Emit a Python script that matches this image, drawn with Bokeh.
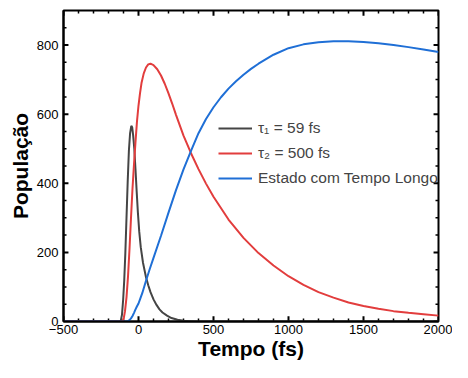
from bokeh.plotting import figure
from bokeh.models import Range1d, Legend, LegendItem, FixedTicker
from bokeh.embed import file_html
from bokeh.resources import INLINE

# ---- data ----
x_min, x_max = -500, 2000
y_min, y_max = 0, 900
x_major = [-500, 0, 500, 1000, 1500, 2000]
x_minor = [-400, -300, -200, -100, 100, 200, 300, 400, 600, 700, 800, 900,
           1100, 1200, 1300, 1400, 1600, 1700, 1800, 1900]
y_major = [0, 200, 400, 600, 800]
y_minor = [50, 100, 150, 250, 300, 350, 450, 500, 550, 650, 700, 750, 850]

t_black = [-500, -130, -118, -110, -102, -95, -88, -80, -72, -64, -56, -48, -42, -36, -28, -20,
           -12, -4, 5, 15, 30, 50, 65, 80, 100, 120, 140, 160, 190, 220, 260, 300, 350, 400, 2000]
pop_black = [0, 0, 2, 20, 65, 120, 195, 300, 405, 495, 545, 566, 562, 540, 500, 440,
             375, 315, 260, 215, 170, 128, 105, 85, 64, 48, 35, 26, 17, 10, 5, 2, 1, 0, 0]

t_red = [-500, -115, -105, -98, -90, -80, -70, -60, -50, -40, -30, -20, -10, 0, 10, 20, 35, 50,
         65, 80, 100, 125, 150, 175, 200, 225, 250, 300, 350, 400, 450, 500, 600, 700, 800,
         900, 1000, 1100, 1200, 1300, 1400, 1500, 1600, 1700, 1800, 1900, 2000]
pop_red = [0, 0, 2, 10, 30, 70, 130, 210, 300, 385, 455, 520, 580, 625, 660, 690, 718, 735,
           744, 746, 742, 730, 712, 688, 660, 630, 598, 538, 487, 441, 399, 361, 295, 242, 198,
           162, 131, 106, 85, 69, 55, 45, 37, 30, 25, 21, 17]

t_blue = [-500, -80, -70, -60, -50, -40, -30, -20, -10, 0, 10, 25, 50, 75, 100, 150, 200, 250,
          300, 350, 400, 450, 500, 550, 600, 650, 700, 750, 800, 900, 1000, 1100, 1200, 1300,
          1400, 1500, 1600, 1700, 1800, 1900, 2000]
pop_blue = [0, 0, 1, 4, 9, 16, 25, 35, 44, 52, 64, 82, 118, 152, 184, 248, 315, 380,
            440, 494, 545, 586, 620, 649, 674, 695, 714, 731, 746, 772, 791, 802, 808, 811,
            811, 809, 805, 800, 794, 787, 780]

labels = ["τ₁ = 59 fs", "τ₂ = 500 fs", "Estado com Tempo Longo"]
colors = ["#454545", "#e23d3d", "#1f6fd6"]

FONT = "Liberation Sans"

p = figure(width=452, height=362, x_range=Range1d(x_min, x_max), y_range=Range1d(y_min, y_max),
           output_backend="svg", toolbar_location=None,
           min_border_left=63, min_border_right=14, min_border_top=10, min_border_bottom=40)
p.xgrid.visible = False
p.ygrid.visible = False
p.outline_line_color = "black"
p.outline_line_width = 2


def style(ax):
    ax.axis_line_width = 2
    ax.axis_line_color = "black"
    ax.major_tick_in = 0
    ax.major_tick_out = 0
    ax.minor_tick_in = 0
    ax.minor_tick_out = 0
    ax.major_label_text_font = FONT
    ax.major_label_text_font_size = "13px"
    ax.major_label_text_color = "black"
    ax.axis_label_text_font = FONT
    ax.axis_label_text_font_size = "21px"
    ax.axis_label_text_font_style = "bold"
    ax.axis_label_text_color = "black"


xb = p.below[0]
xb.ticker = FixedTicker(ticks=x_major, minor_ticks=x_minor)
style(xb)
xb.major_label_standoff = 3
xb.axis_label = "Tempo (fs)"
xb.axis_label_standoff = 0

yl = p.left[0]
yl.ticker = FixedTicker(ticks=y_major, minor_ticks=y_minor)
style(yl)
yl.major_label_standoff = 5
yl.axis_label = "População"
yl.axis_label_standoff = 2

# inside tick marks on all four sides (lengths are style: ~5 px major, ~3 px minor)
ty_major, ty_minor = 15, 9       # in y data units
tx_major, tx_minor = 33, 20      # in x data units
tick_x0, tick_x1, tick_y0, tick_y1, tick_w = [], [], [], [], []
for xs, ln, w in ((x_major, ty_major, 2), (x_minor, ty_minor, 1.5)):
    for xv in xs:
        tick_x0 += [xv, xv]
        tick_x1 += [xv, xv]
        tick_y0 += [y_min, y_max]
        tick_y1 += [y_min + ln, y_max - ln]
        tick_w += [w, w]
for ys, ln, w in ((y_major, tx_major, 2), (y_minor, tx_minor, 1.5)):
    for yv in ys:
        tick_x0 += [x_min, x_max]
        tick_x1 += [x_min + ln, x_max - ln]
        tick_y0 += [yv, yv]
        tick_y1 += [yv, yv]
        tick_w += [w, w]
p.segment(x0=tick_x0, y0=tick_y0, x1=tick_x1, y1=tick_y1, line_width=tick_w,
          line_color="black")

r1 = p.line(t_black, pop_black, line_color=colors[0], line_width=2)
r2 = p.line(t_red, pop_red, line_color=colors[1], line_width=2)
r3 = p.line(t_blue, pop_blue, line_color=colors[2], line_width=2)

legend = Legend(items=[LegendItem(label=labels[0], renderers=[r1]),
                       LegendItem(label=labels[1], renderers=[r2]),
                       LegendItem(label=labels[2], renderers=[r3])],
                location=(155, 133), border_line_alpha=0, background_fill_alpha=0,
                label_text_font=FONT, label_text_font_size="15.5px",
                glyph_width=34, glyph_height=20, label_height=20, label_standoff=6,
                padding=0, margin=0, spacing=5)
p.add_layout(legend)

open("out.html", "w").write(file_html(p, INLINE))
